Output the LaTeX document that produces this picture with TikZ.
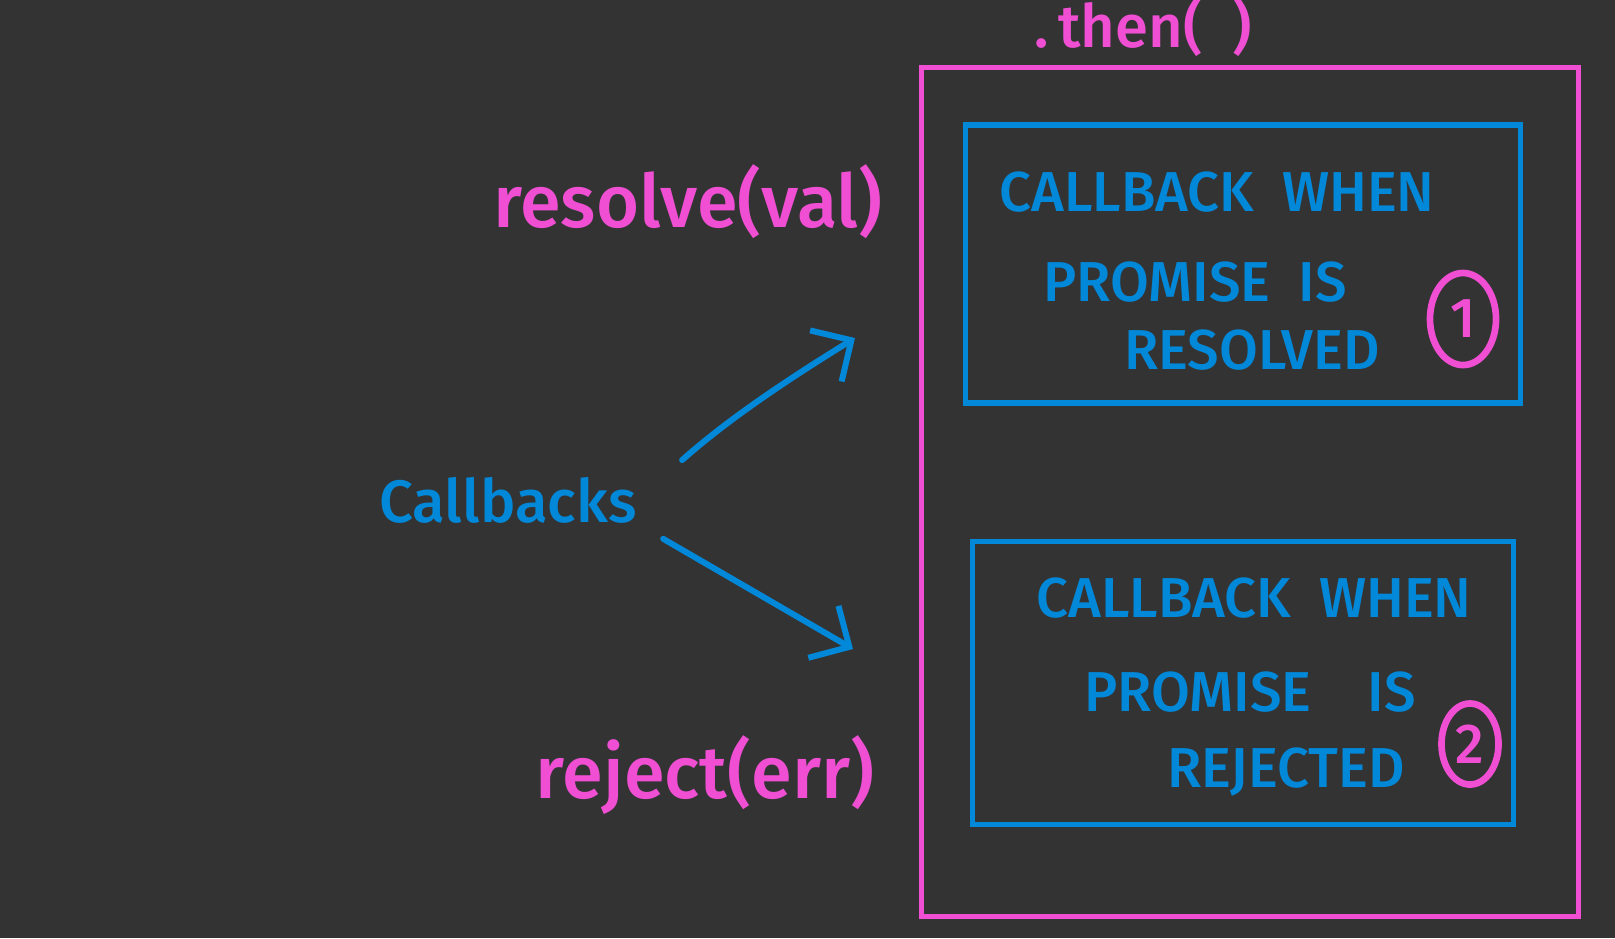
\documentclass[tikz,border=0pt]{standalone}
\usepackage{fontspec}
\setmainfont{Fira Sans}[BoldFont={Fira Sans Medium}]
\usetikzlibrary{shapes}
\usetikzlibrary{arrows.meta}
\definecolor{board}{HTML}{333333}
\definecolor{penpink}{HTML}{F04FD4}
\definecolor{penblue}{HTML}{0288D9}
\tikzset{
    frame/.style = {rectangle, draw=penpink, line width=1.5pt, inner sep=0pt},
    cbbox/.style = {rectangle, draw=penblue, line width=1.5pt, inner sep=0pt},
    capsline/.style = {text=penblue, font=\fontsize{16}{19}\selectfont\bfseries, inner sep=0pt},
    pinklabel/.style = {text=penpink, font=\fontsize{21}{25}\selectfont\bfseries, inner sep=0pt},
    bluelabel/.style = {text=penblue, font=\fontsize{17}{21}\selectfont\bfseries, inner sep=0pt},
    numring/.style = {ellipse, draw=penpink, line width=1.9pt, text=penpink, font=\fontsize{16}{19}\selectfont\bfseries, inner sep=0pt},
    edgeb/.style = {-{Straight Barb[length=0.3cm,width=0.6cm]}, line width=1.7pt, penblue, line cap=round},
}

\begin{document}
\begin{tikzpicture}[x=0.01cm,y=-0.01cm]
% board
\fill[board] (0,0) rectangle (1615,938);
\path[use as bounding box] (0,0) rectangle (1615,938);
%
\node[frame,minimum width=6.57cm,minimum height=8.48cm] at (1250,492) (then) {};
\node[pinklabel,anchor=base,font=\fontsize{17}{20}\selectfont\bfseries] at (1143,47) (thenlbl) {.\,then(\enspace)};
%
\node[cbbox,minimum width=5.55cm,minimum height=2.78cm] at (1243,264) (resbox) {};
\node[capsline] at (1217,192) (resa) {CALLBACK\enspace WHEN};
\node[capsline] at (1195,282) (resb) {PROMISE\enspace IS};
\node[capsline] at (1252,350) (resc) {RESOLVED};
\node[numring,minimum width=0.66cm,minimum height=0.92cm] at (1463,319) (one) {1};
%
\node[cbbox,minimum width=5.41cm,minimum height=2.83cm] at (1243,683) (rejbox) {};
\node[capsline] at (1254,598) (reja) {CALLBACK\enspace WHEN};
\node[capsline] at (1250,692) (rejb) {PROMISE\quad IS};
\node[capsline] at (1286,772) (rejc) {REJECTED};
\node[numring,minimum width=0.57cm,minimum height=0.81cm] at (1470,744) (two) {2};
%
\node[pinklabel] at (688,202) (resolve) {resolve(val)};
\node[pinklabel] at (705,775) (reject) {reject(err)};
\node[bluelabel] at (508,500) (cb) {Callbacks};
%
\coordinate (resend) at (855,338);
\coordinate (rejend) at (853,649);
\draw[edgeb,shorten <=0.6cm] (cb.east) to[bend left=5] (resend);
\draw[edgeb,shorten <=0.3cm] (cb.south east) -- (rejend);

\end{tikzpicture}
\end{document}
